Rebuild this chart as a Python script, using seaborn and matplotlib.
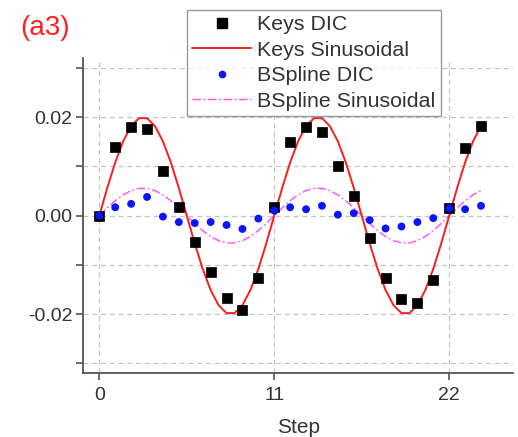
import matplotlib
matplotlib.use("Agg")
import matplotlib.pyplot as plt
import seaborn as sns
import pandas as pd
from matplotlib.lines import Line2D
from matplotlib.ticker import FixedLocator

# ---- data ----
steps = list(range(25))
keys_dic = [0.0, 0.0139, 0.0181, 0.0176, 0.0091, 0.0018, -0.0053, -0.0114, -0.0167,
            -0.0192, -0.0127, 0.0018, 0.0150, 0.0181, 0.0169, 0.0101, 0.0039, -0.0046,
            -0.0126, -0.0170, -0.0178, -0.0131, 0.0015, 0.0138, 0.0182]
bspline_dic = [0.0, 0.0017, 0.0024, 0.0038, -0.0002, -0.0013, -0.0015, -0.0013, -0.0019,
               -0.0027, -0.0006, 0.0010, 0.0017, 0.0013, 0.0020, 0.0002, 0.0005, -0.0009,
               -0.0026, -0.0022, -0.0013, -0.0005, 0.0015, 0.0013, 0.0020]

# fitted sinusoid curves, tabulated every half step from 0 to 24
curve_steps = [i * 0.5 for i in range(49)]
keys_sin = [0.0, 0.00563, 0.01081, 0.01511, 0.01819, 0.01980, 0.01980, 0.01819, 0.01511, 0.01081, 0.00563,
            0.0, -0.00563, -0.01081, -0.01511, -0.01819, -0.01980, -0.01980, -0.01819, -0.01511, -0.01081, -0.00563,
            0.0, 0.00563, 0.01081, 0.01511, 0.01819, 0.01980, 0.01980, 0.01819, 0.01511, 0.01081, 0.00563,
            0.0, -0.00563, -0.01081, -0.01511, -0.01819, -0.01980, -0.01980, -0.01819, -0.01511, -0.01081, -0.00563,
            0.0, 0.00563, 0.01081, 0.01511, 0.01819]
bspline_sin = [0.0, 0.00158, 0.00303, 0.00423, 0.00509, 0.00554, 0.00554, 0.00509, 0.00423, 0.00303, 0.00158,
               0.0, -0.00158, -0.00303, -0.00423, -0.00509, -0.00554, -0.00554, -0.00509, -0.00423, -0.00303, -0.00158,
               0.0, 0.00158, 0.00303, 0.00423, 0.00509, 0.00554, 0.00554, 0.00509, 0.00423, 0.00303, 0.00158,
               0.0, -0.00158, -0.00303, -0.00423, -0.00509, -0.00554, -0.00554, -0.00509, -0.00423, -0.00303, -0.00158,
               0.0, 0.00158, 0.00303, 0.00423, 0.00509]

x_ticks = [0, 11, 22]
y_major = [-0.02, 0.0, 0.02]
y_minor = [-0.03, -0.01, 0.01, 0.03]
series_names = ["Keys DIC", "Keys Sinusoidal", "BSpline DIC", "BSpline Sinusoidal"]

pts = pd.DataFrame({"Step": steps, "keys": keys_dic, "bspline": bspline_dic})
crv = pd.DataFrame({"Step": curve_steps, "keys": keys_sin, "bspline": bspline_sin})

sns.set_style("white")
plt.rcParams["font.family"] = ["Liberation Sans", "DejaVu Sans"]

RED = "#f42020"
MAG = "#ff4cff"
BLUE = "#0a14ff"
DASHDOT = (0, (6, 2, 1.2, 2))

fig = plt.figure(figsize=(5.18, 4.37), dpi=100)
ax = fig.add_axes([0.161, 0.146, 0.829, 0.721])

# grid
grid_kw = dict(color="#c4c4c4", linestyle=(0, (4, 3)), linewidth=0.9, zorder=0)
for yv in y_major + y_minor:
    ax.axhline(yv, **grid_kw)
for xv in x_ticks:
    ax.axvline(xv, **grid_kw)

sns.lineplot(data=crv, x="Step", y="bspline", ax=ax, color=MAG, linewidth=1.0,
             linestyle=DASHDOT, zorder=2)
sns.lineplot(data=crv, x="Step", y="keys", ax=ax, color=RED, linewidth=1.4, zorder=3)
sns.scatterplot(data=pts, x="Step", y="keys", ax=ax, marker="s", s=60, color="black",
                edgecolor="black", linewidth=0.5, zorder=4)
sns.scatterplot(data=pts, x="Step", y="bspline", ax=ax, marker="o", s=32, color=BLUE,
                edgecolor="none", zorder=5)

ax.set_xlim(-1, 26)
ax.set_ylim(-0.032, 0.032)
ax.set_xticks(x_ticks)
ax.set_xticklabels([str(v) for v in x_ticks])
ax.set_yticks(y_major)
ax.set_yticklabels(["-0.02", "0.00", "0.02"])
ax.yaxis.set_minor_locator(FixedLocator(y_minor))

for s in ["top", "right"]:
    ax.spines[s].set_visible(False)
for s in ["left", "bottom"]:
    ax.spines[s].set_color("#555555")
    ax.spines[s].set_linewidth(1.3)

ax.tick_params(axis="both", which="major", direction="out", length=5, width=1.2,
               color="#555555", labelsize=14, labelcolor="#333333", left=True, bottom=True)
ax.tick_params(axis="y", which="minor", direction="out", length=5, width=1.2,
               color="#555555", left=True)
ax.tick_params(axis="y", which="major", pad=3)
ax.tick_params(axis="x", which="major", pad=5)

ax.set_xlabel("Step", fontsize=15, color="#333333", labelpad=10)
ax.set_ylabel("")

handles = [
    Line2D([], [], marker="s", linestyle="none", color="black", markersize=6.5),
    Line2D([], [], color=RED, linewidth=1.4),
    Line2D([], [], marker="o", linestyle="none", color=BLUE, markersize=4.5),
    Line2D([], [], color=MAG, linewidth=1.0, linestyle=DASHDOT),
]
leg = fig.legend(handles, series_names, loc="upper left", bbox_to_anchor=(0.361, 0.977),
                 prop={"family": ["Liberation Sans", "DejaVu Sans"], "size": 15.4},
                 frameon=True, fancybox=False, edgecolor="#808080",
                 handlelength=2.75, handletextpad=0.27, labelspacing=0.3,
                 borderpad=0.25, borderaxespad=0)
for t in leg.get_texts():
    t.set_color("#333333")
leg.get_frame().set_linewidth(1.0)

fig.text(20 / 518, 1 - 35 / 437, "(a3)", color="#ff2020", fontsize=20)

fig.savefig("out.png", dpi=100)
